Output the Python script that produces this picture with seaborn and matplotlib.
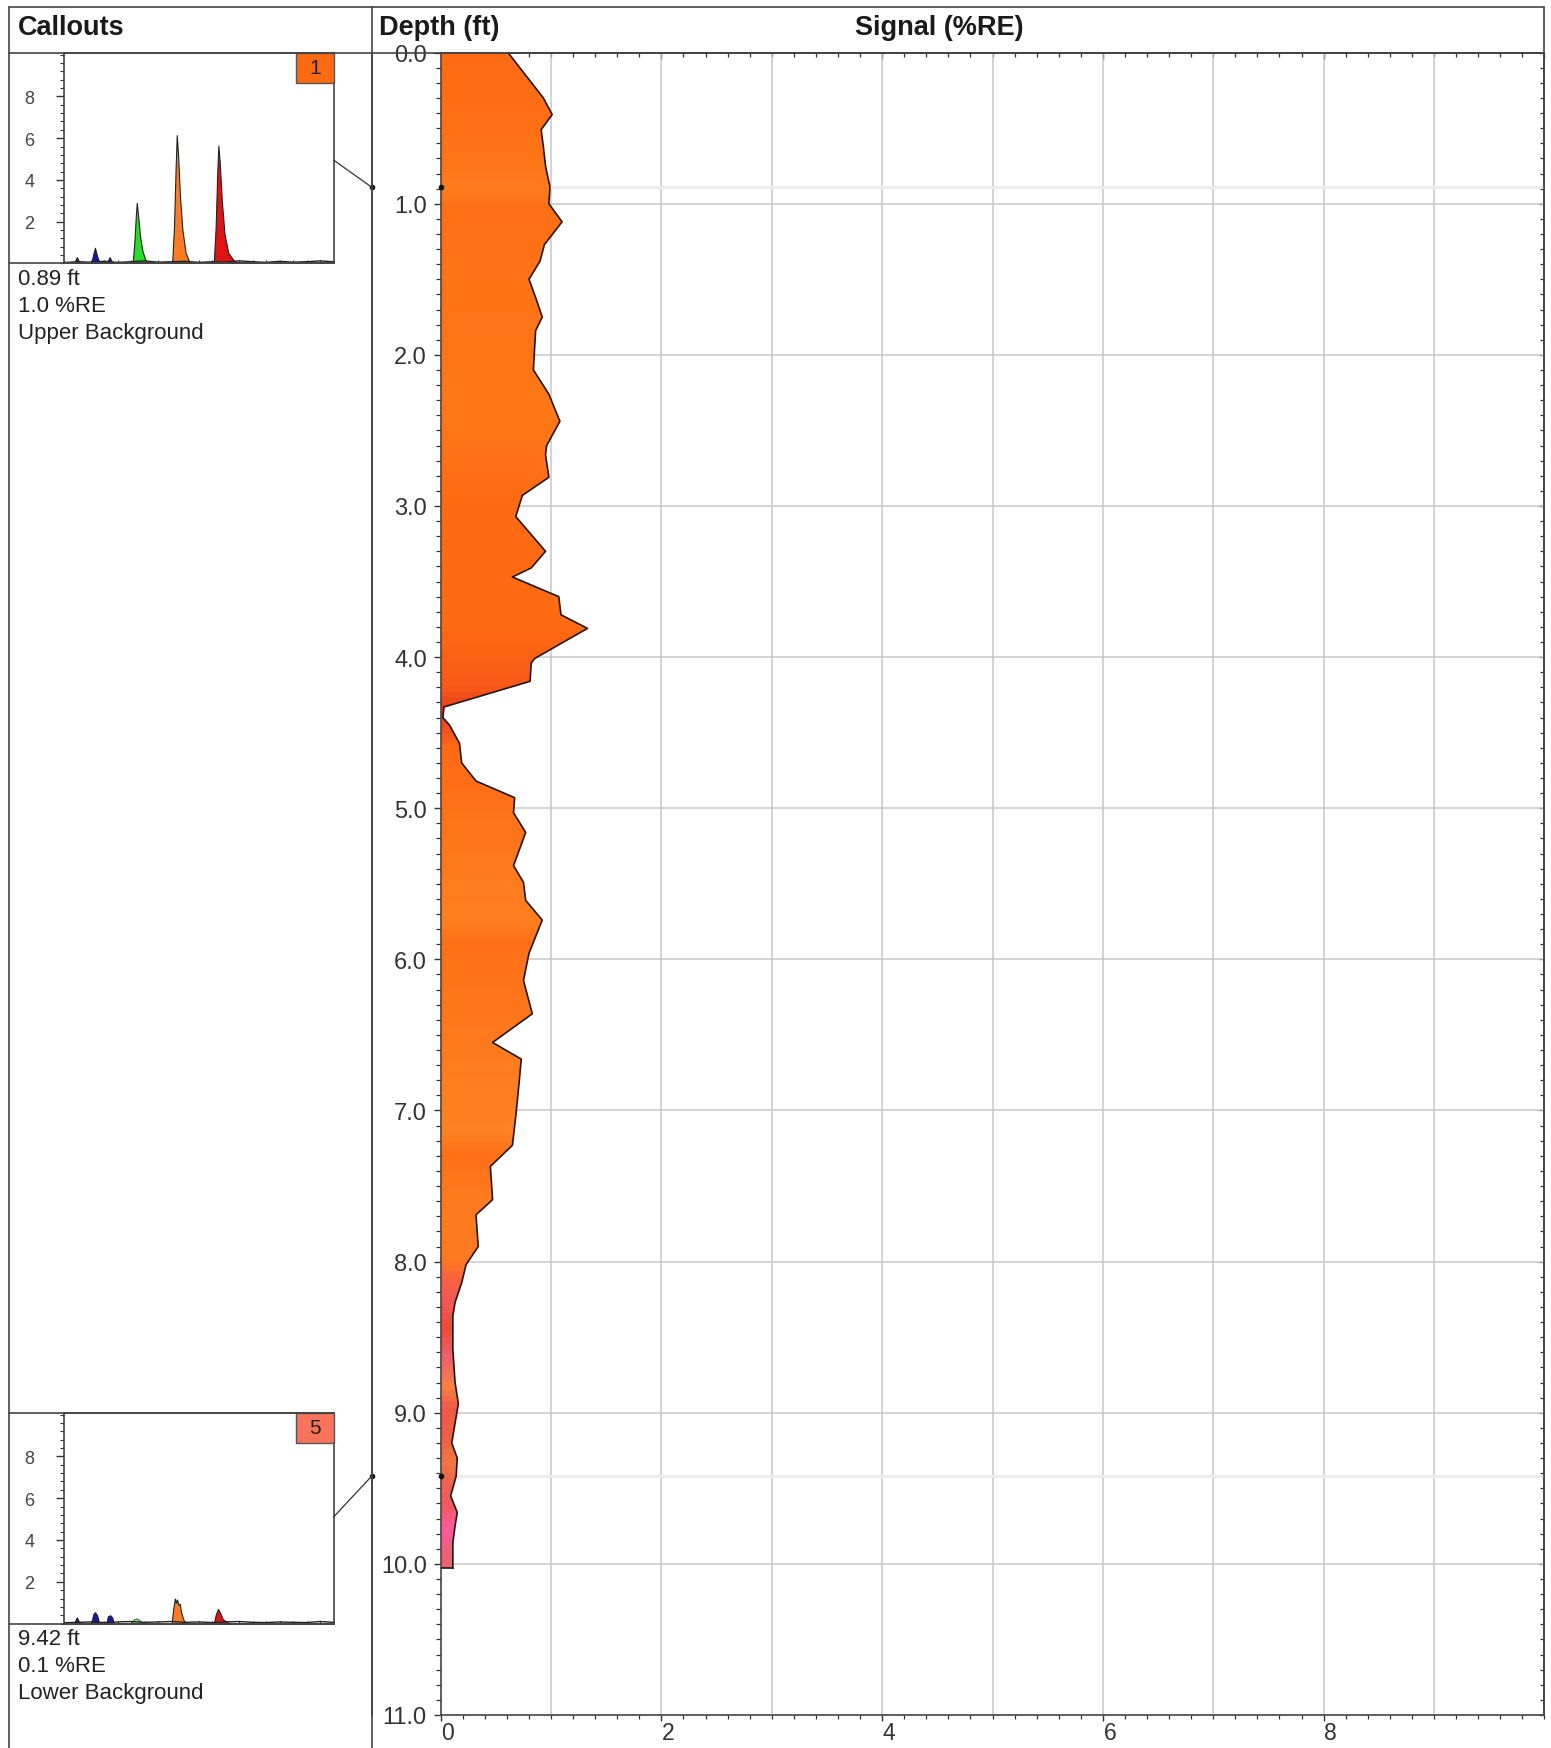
import numpy as np
import matplotlib
matplotlib.use("Agg")
import matplotlib.pyplot as plt
import seaborn as sns
from matplotlib.colors import LinearSegmentedColormap
from matplotlib.patches import Rectangle, ConnectionPatch
from matplotlib.lines import Line2D
from matplotlib.transforms import ScaledTranslation
from matplotlib.ticker import MultipleLocator, FixedLocator, NullFormatter, FuncFormatter

# ---------------- signal profile (depth in ft, signal in %RE) ----------------
depth_ft = [0.00, 0.30, 0.41, 0.51, 0.62, 0.75, 0.89, 1.00, 1.12, 1.27, 1.38, 1.50,
            1.62, 1.75, 1.84, 2.10, 2.26, 2.44, 2.60, 2.66, 2.81, 2.93, 3.07, 3.30,
            3.41, 3.47, 3.60, 3.72, 3.81, 4.01, 4.04, 4.16, 4.33, 4.40, 4.45, 4.57,
            4.70, 4.82, 4.93, 5.03, 5.16, 5.38, 5.49, 5.61, 5.74, 5.96, 6.14, 6.36,
            6.55, 6.66, 6.82, 7.04, 7.23, 7.37, 7.59, 7.69, 7.90, 8.02, 8.14, 8.27,
            8.36, 8.58, 8.80, 8.94, 9.07, 9.20, 9.30, 9.42, 9.55, 9.66, 9.75, 9.86,
            10.03]
signal_re = [0.61, 0.93, 1.01, 0.91, 0.93, 0.95, 0.99, 0.98, 1.10, 0.94, 0.90, 0.80,
             0.86, 0.92, 0.86, 0.84, 0.98, 1.08, 0.96, 0.95, 0.98, 0.74, 0.68, 0.95,
             0.82, 0.65, 1.07, 1.09, 1.33, 0.85, 0.82, 0.81, 0.03, 0.02, 0.08, 0.17,
             0.19, 0.32, 0.67, 0.66, 0.77, 0.66, 0.75, 0.77, 0.92, 0.80, 0.75, 0.83,
             0.47, 0.73, 0.71, 0.68, 0.65, 0.45, 0.47, 0.32, 0.34, 0.23, 0.19, 0.13,
             0.11, 0.11, 0.13, 0.16, 0.13, 0.10, 0.15, 0.14, 0.09, 0.15, 0.13, 0.11,
             0.11]

# colour of the fill along depth
shade_depth = [0.0, 0.5, 0.9, 1.0, 2.4, 3.0, 3.8, 4.2, 4.35, 4.45, 4.6, 5.75, 5.9,
               7.15, 7.3, 7.6, 8.0, 8.15, 8.3, 8.45, 8.65, 8.85, 9.0, 9.2, 9.35,
               9.5, 9.65, 9.8, 9.95, 10.03]
shade_color = ["#FF6B12", "#FF7014", "#FF7A1C", "#FF7014", "#FF7818", "#FF6A12",
               "#FF6A12", "#F85A18", "#E83A20", "#F04A20", "#FF6A14", "#FF8020",
               "#FF7016", "#FF8222", "#FF7016", "#FF7A1E", "#FF7A20", "#F86040",
               "#F05858", "#F04A30", "#F06070", "#F88040", "#F05848", "#F06040",
               "#F07840", "#F06050", "#F05A60", "#FF5AA0", "#F06070", "#F06070"]

# ---------------- callouts ----------------
callout_ids = ["1", "5"]
callout_depth = [0.89, 9.42]
callout_signal = [0.99, 0.14]
callout_name = ["Upper Background", "Lower Background"]
callout_box_color = ["#FF6A10", "#F8735A"]

peak_colors = ["#1414B4", "#1414B4", "#1414B4", "#22E022", "#FF7A20", "#E01212"]

# spectrum for callout 1
spec1_x = [
    [3.8, 4.9, 6.0],
    [10.2, 11.0, 11.6, 12.4, 13.4],
    [16.0, 17.0, 18.2],
    [25.6, 26.3, 26.8, 27.1, 27.6, 28.3, 29.2, 30.2, 31.0],
    [40.2, 40.9, 41.5, 41.9, 42.4, 43.1, 44.0, 45.2, 46.8],
    [55.6, 56.3, 56.9, 57.3, 57.8, 58.6, 59.6, 61.0, 63.0, 65.0],
]
spec1_y = [
    [0, 0.30, 0],
    [0, 0.45, 0.75, 0.35, 0],
    [0, 0.30, 0],
    [0, 1.2, 2.4, 2.9, 2.3, 1.3, 0.6, 0.2, 0],
    [0, 1.8, 4.6, 6.15, 5.2, 3.2, 1.6, 0.5, 0],
    [0, 1.7, 4.3, 5.65, 4.9, 3.0, 1.4, 0.5, 0.15, 0],
]
# spectrum for callout 5
spec5_x = [
    [3.8, 4.9, 6.0],
    [10.2, 11.0, 11.6, 12.4, 13.2],
    [15.8, 16.4, 17.2, 18.0, 18.6],
    [24.8, 26.0, 27.1, 28.2, 29.6],
    [40.0, 40.6, 41.2, 41.6, 42.0, 42.5, 43.0, 43.5, 44.2, 45.0],
    [55.6, 56.4, 57.2, 58.0, 59.0, 60.5, 62.0],
]
spec5_y = [
    [0, 0.30, 0],
    [0, 0.45, 0.55, 0.40, 0],
    [0, 0.35, 0.40, 0.30, 0],
    [0, 0.20, 0.25, 0.15, 0],
    [0, 0.70, 1.20, 1.00, 1.15, 0.90, 0.95, 0.55, 0.25, 0],
    [0, 0.45, 0.70, 0.50, 0.20, 0.08, 0],
]
baseline_x = [0, 5, 10, 15, 20, 25, 30, 35, 40, 45, 50, 55, 60, 65, 70, 75, 80, 85, 90, 95, 100]
baseline1_y = [0.04, 0.08, 0.06, 0.10, 0.05, 0.08, 0.12, 0.06, 0.08, 0.10, 0.05, 0.08,
               0.06, 0.12, 0.08, 0.05, 0.10, 0.06, 0.08, 0.12, 0.08]
baseline5_y = [0.04, 0.06, 0.08, 0.05, 0.08, 0.10, 0.06, 0.08, 0.10, 0.06, 0.08, 0.05,
               0.08, 0.10, 0.06, 0.05, 0.08, 0.06, 0.05, 0.10, 0.06]

# ---------------- figure setup ----------------
sns.set_theme(style="white")
plt.rcParams["font.family"] = ["Liberation Sans", "DejaVu Sans"]
plt.rcParams["axes.edgecolor"] = "#444444"
plt.rcParams["xtick.color"] = "#333333"
plt.rcParams["ytick.color"] = "#333333"

W, H = 1551, 1749
fig = plt.figure(figsize=(W / 100, H / 100), dpi=100)
fig.patch.set_facecolor("white")


def fx(px):
    return px / W


def fy(py):
    return 1 - py / H


LINE_C = "#444444"
LINE_W = 1.2

X_DIV, X_AX, X_R = 371.6, 440.7, 1544.3
Y_TOP, Y_HDR, Y_BOT = 7.8, 53.6, 1716.0
X_L = 8.9

# main signal track
ax = fig.add_axes([fx(X_AX), fy(Y_BOT), (X_R - X_AX) / W, (Y_BOT - Y_HDR) / H])
ax.set_facecolor("white")

# grid
ax.vlines(np.arange(1, 10), 0, 11, color="#c8c8c8", lw=1.1, zorder=0.5)
ax.hlines(np.arange(1, 11), 0, 10, color="#c8c8c8", lw=1.1, zorder=0.5)
for d in callout_depth:
    ax.axhline(d, color="#ececec", lw=2.2, zorder=0.6)

# gradient-filled profile
depth_arr = np.asarray(depth_ft)
sig_arr = np.asarray(signal_re)
dmax = depth_arr.max()
pos = np.asarray(shade_depth) / dmax
cmap = LinearSegmentedColormap.from_list("shade", list(zip(pos, shade_color)))
fill = ax.fill_betweenx(depth_arr, 0, sig_arr, facecolor="none", edgecolor="none", zorder=2)
grad = np.linspace(0, dmax, 1200)[:, None]
im = ax.imshow(grad, extent=[0, sig_arr.max() + 0.1, dmax, 0], origin="upper",
               aspect="auto", cmap=cmap, vmin=0, vmax=dmax, zorder=2,
               interpolation="bilinear")
im.set_clip_path(fill.get_paths()[0], transform=ax.transData)

# outline of the profile
sns.lineplot(x=signal_re, y=depth_ft, orient="y", sort=False, estimator=None,
             color="#1a1a1a", linewidth=1.2, ax=ax, zorder=3)
ax.plot([0, sig_arr[-1]], [depth_arr[-1], depth_arr[-1]], color="#1a1a1a", lw=1.2, zorder=3)

ax.set_xlim(0, 10)
ax.set_ylim(11, 0)
ax.set_xlabel("")
ax.set_ylabel("")

for s in ax.spines.values():
    s.set_color(LINE_C)
    s.set_linewidth(LINE_W)

# bottom axis ticks
ax.xaxis.set_major_locator(FixedLocator([0, 2, 4, 6, 8]))
ax.xaxis.set_minor_locator(MultipleLocator(0.2))
ax.tick_params(axis="x", which="major", direction="out", length=4, width=1,
               pad=0.5, labelsize=16.5, bottom=True)
ax.tick_params(axis="x", which="minor", direction="out", length=3.0, width=0.9, bottom=True)
for lab in ax.get_xticklabels():
    lab.set_transform(lab.get_transform() + ScaledTranslation(0.07, 0, fig.dpi_scale_trans))

# depth labels
ax.yaxis.set_major_locator(MultipleLocator(1))
ax.yaxis.set_minor_locator(MultipleLocator(0.1))
ax.yaxis.set_major_formatter(FuncFormatter(lambda v, p: f"{v:.1f}"))
ax.tick_params(axis="y", which="major", direction="out", length=5, width=1,
               pad=5, labelsize=17, left=True, labelcolor="#333333")
ax.tick_params(axis="y", which="minor", direction="out", length=3.6, width=0.9, left=True)

# top and right inner ticks
sec_top = ax.secondary_xaxis("top")
sec_top.xaxis.set_major_locator(MultipleLocator(2))
sec_top.xaxis.set_minor_locator(MultipleLocator(0.2))
sec_top.xaxis.set_major_formatter(NullFormatter())
sec_top.tick_params(which="major", direction="in", length=4.5, width=1)
sec_top.tick_params(which="minor", direction="in", length=2.6, width=0.9)
sec_top.spines["top"].set_color(LINE_C)

sec_right = ax.secondary_yaxis("right")
sec_right.yaxis.set_major_locator(MultipleLocator(1))
sec_right.yaxis.set_minor_locator(MultipleLocator(0.1))
sec_right.yaxis.set_major_formatter(NullFormatter())
sec_right.tick_params(which="major", direction="in", length=3.6, width=0.9)
sec_right.tick_params(which="minor", direction="in", length=3.0, width=0.9)
sec_right.spines["right"].set_color(LINE_C)

# divider ruler between callouts and depth labels
ax_div = fig.add_axes([fx(X_DIV), fy(Y_BOT), (X_AX - X_DIV) / W, (Y_BOT - Y_HDR) / H])
ax_div.patch.set_visible(False)
ax_div.set_ylim(11, 0)
ax_div.set_xlim(0, 1)
for k in ["top", "right", "bottom"]:
    ax_div.spines[k].set_visible(False)
ax_div.spines["left"].set_color(LINE_C)
ax_div.spines["left"].set_linewidth(LINE_W)
ax_div.set_xticks([])
ax_div.yaxis.set_major_locator(MultipleLocator(1))
ax_div.yaxis.set_minor_locator(MultipleLocator(0.1))
ax_div.yaxis.set_major_formatter(NullFormatter())
ax_div.tick_params(axis="y", which="major", direction="in", length=6.5, width=1)
ax_div.tick_params(axis="y", which="minor", direction="in", length=3.6, width=0.9)

# frame lines of the log layout
frame = [
    ([X_L, X_R], [Y_TOP, Y_TOP]),
    ([X_L, X_L], [Y_TOP, H + 5]),
    ([X_L, X_R], [Y_HDR, Y_HDR]),
    ([X_DIV, X_DIV], [Y_TOP, H + 5]),
    ([X_R, X_R], [Y_TOP, Y_HDR]),
]
for xs, ys in frame:
    fig.add_artist(Line2D([fx(v) for v in xs], [fy(v) for v in ys],
                          transform=fig.transFigure, color=LINE_C, lw=LINE_W))

# header texts
fig.text(fx(17.9), fy(28), "Callouts", fontsize=19.5, fontweight="bold",
         color="#1a1a1a", va="center", ha="left")
fig.text(fx(379), fy(28), "Depth (ft)", fontsize=19.5, fontweight="bold",
         color="#1a1a1a", va="center", ha="left")
fig.text(fx(939), fy(28), "Signal (%RE)", fontsize=19.5, fontweight="bold",
         color="#1a1a1a", va="center", ha="center")

# ---------------- callout insets ----------------
INS_L, INS_R = 63.6, 333.6
inset_tb = [(53.6, 264.4), (1413.5, 1624.6)]
spectra = [(spec1_x, spec1_y, baseline1_y), (spec5_x, spec5_y, baseline5_y)]

for i in range(2):
    top, bot = inset_tb[i]
    ins = fig.add_axes([fx(INS_L), fy(bot), (INS_R - INS_L) / W, (bot - top) / H])
    ins.set_facecolor("white")
    sx, sy, base = spectra[i]
    sns.lineplot(x=baseline_x, y=base, color="#222222", linewidth=1.0, ax=ins,
                 estimator=None, sort=False)
    for px, py, c in zip(sx, sy, peak_colors):
        edge = "#3a7a3a" if (i == 1 and c == "#22E022") else "#222222"
        face = "#9be39b" if (i == 1 and c == "#22E022") else c
        ins.fill_between(px, 0, py, facecolor=face, edgecolor=edge, linewidth=0.8)
    ins.set_xlim(0, 100)
    ins.set_ylim(0, 10.1)
    ins.set_xlabel("")
    ins.set_ylabel("")
    for s in ins.spines.values():
        s.set_color(LINE_C)
        s.set_linewidth(LINE_W)
    ins.yaxis.set_major_locator(FixedLocator([2, 4, 6, 8]))
    ins.yaxis.set_minor_locator(MultipleLocator(0.4))
    ins.tick_params(axis="y", which="major", direction="out", length=6, width=1,
                    labelsize=13, labelcolor="#444444", pad=15, left=True)
    ins.tick_params(axis="y", which="minor", direction="out", length=3.0, width=0.8, left=True)
    ins.xaxis.set_major_locator(MultipleLocator(5))
    ins.xaxis.set_major_formatter(NullFormatter())
    ins.tick_params(axis="x", which="major", direction="in", length=2.5, width=0.8, bottom=True)

    # frame lines spanning the callout panel
    for yy in ([bot] if i == 0 else [top, bot]):
        fig.add_artist(Line2D([fx(X_L), fx(INS_R)], [fy(yy), fy(yy)],
                              transform=fig.transFigure, color=LINE_C, lw=LINE_W))

    # numbered tag
    ins.add_patch(Rectangle((0.86, 0.857), 0.14, 0.143, transform=ins.transAxes,
                            facecolor=callout_box_color[i], edgecolor="#555555",
                            lw=1.0, zorder=5, clip_on=False))
    ins.text(0.93, 0.928, callout_ids[i], transform=ins.transAxes, ha="center",
             va="center", fontsize=15, color="#222222", zorder=6)

    # connector to the depth
    d = callout_depth[i]
    con = ConnectionPatch(xyA=(1.0, 0.49 if i == 0 else 0.505), coordsA=ins.transAxes,
                          xyB=(0, d), coordsB=ax_div.transData,
                          color="#333333", lw=0.9)
    fig.add_artist(con)
    ax_div.plot([0], [d], "o", ms=3, color="#111111", clip_on=False, zorder=6)
    ax.plot([0], [d], "o", ms=3, color="#111111", clip_on=False, zorder=6)

    # callout text
    lines = [f"{d:.2f} ft", f"{callout_signal[i]:.1f} %RE", callout_name[i]]
    for k, t in enumerate(lines):
        fig.text(fx(17.9), fy(bot + 15 + 26.8 * k), t, fontsize=16,
                 color="#222222", ha="left", va="center")

fig.savefig("out.png", dpi=100, facecolor="white")
